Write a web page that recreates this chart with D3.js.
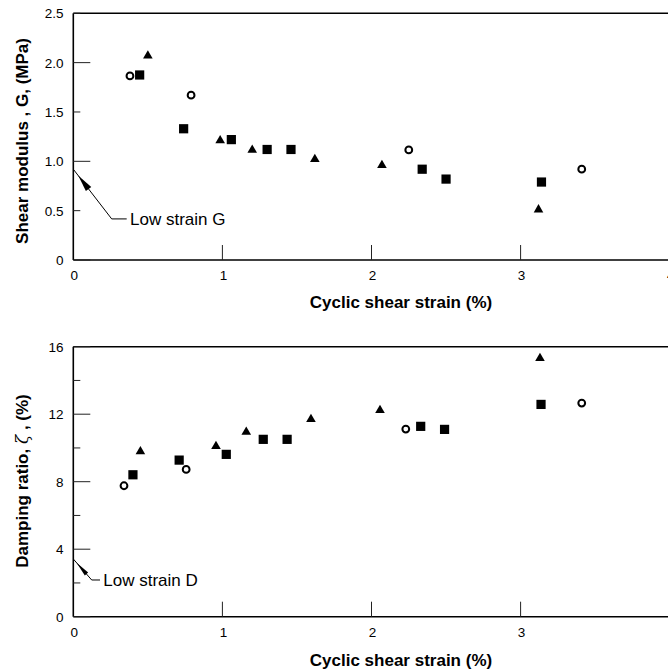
<!DOCTYPE html>
<html>
<head>
<meta charset="utf-8">
<script src="https://cdn.jsdelivr.net/npm/d3@7"></script>
<style>
  body { margin: 0; background: #fff; }
  text { font-family: "Liberation Sans", Arial, sans-serif; fill: #000; }
</style>
</head>
<body>
<script>
// strain (%) and value pairs
const gTriangle = [[0.50, 2.08], [0.985, 1.22], [1.20, 1.125], [1.62, 1.03], [2.07, 0.97], [3.12, 0.52]];
const gSquare = [[0.445, 1.875], [0.74, 1.33], [1.06, 1.22], [1.30, 1.12], [1.46, 1.12], [2.34, 0.92], [2.50, 0.82], [3.14, 0.79]];
const gCircle = [[0.38, 1.865], [0.79, 1.67], [2.25, 1.115], [3.41, 0.92]];

const dTriangle = [[0.45, 9.84], [0.957, 10.15], [1.16, 11.0], [1.594, 11.75], [2.057, 12.29], [3.13, 15.37]];
const dSquare = [[0.40, 8.41], [0.71, 9.28], [1.026, 9.62], [1.274, 10.51], [1.434, 10.51], [2.33, 11.28], [2.49, 11.10], [3.137, 12.58]];
const dCircle = [[0.34, 7.76], [0.757, 8.73], [2.23, 11.12], [3.41, 12.66]];

const xTicks = [0, 1, 2, 3, 4];
const gXLabels = ["0", "1", "2", "3", "4"];
const dXLabels = ["0", "1", "2", "3", ""];
const gTicks = [0, 0.5, 1.0, 1.5, 2.0, 2.5];
const gTickLabels = ["0", "0.5", "1.0", "1.5", "2.0", "2.5"];
const dTicks = [0, 2, 4, 6, 8, 10, 12, 14, 16];
const dTickLabels = ["0", "", "4", "", "8", "", "12", "", "16"];

const lowStrainG = 0.92;
const lowStrainD = 3.42;

const svg = d3.select("body").append("svg")
    .attr("width", 668).attr("height", 670);

const x = d3.scaleLinear().domain([0, 4]).range([73.3, 669.7]);
const yG = d3.scaleLinear().domain([0, 2.5]).range([260, 13.3]);
const yD = d3.scaleLinear().domain([0, 16]).range([616.7, 346.7]);

function panel(y, ticks, labels, xLabels, labelY, xTitleY, yTitleParts, yTitleMid) {
    const g = svg.append("g");
    const [y0, y1] = y.range();

    // frame: left, bottom, top
    g.append("line").attr("x1", x(0)).attr("x2", x(0)).attr("y1", y0).attr("y2", y1)
        .attr("stroke", "#000").attr("stroke-width", 1.6);
    g.append("line").attr("x1", x(0)).attr("x2", 668).attr("y1", y0).attr("y2", y0)
        .attr("stroke", "#000").attr("stroke-width", 1.6);
    g.append("line").attr("x1", x(0)).attr("x2", 668).attr("y1", y1).attr("y2", y1)
        .attr("stroke", "#000").attr("stroke-width", 1.4);

    // y ticks inward, every other one long
    g.selectAll(".yt").data(ticks).enter().append("line")
        .attr("x1", x(0))
        .attr("x2", (d, i) => x(0) + (i % 2 === 0 ? 17 : 7))
        .attr("y1", d => y(d)).attr("y2", d => y(d))
        .attr("stroke", "#222").attr("stroke-width", 1);
    g.selectAll(".yl").data(ticks).enter().append("text")
        .attr("x", 63.5).attr("y", d => y(d)).attr("dy", "0.36em")
        .attr("text-anchor", "end").style("font-size", "13.5px")
        .text((d, i) => labels[i]);

    // x ticks inward
    g.selectAll(".xt").data(xTicks.slice(1)).enter().append("line")
        .attr("x1", d => x(d)).attr("x2", d => x(d))
        .attr("y1", y0).attr("y2", y0 - 15)
        .attr("stroke", "#222").attr("stroke-width", 1);
    g.selectAll(".xl").data(xTicks).enter().append("text")
        .attr("x", d => x(d) + 1).attr("y", labelY)
        .attr("text-anchor", "middle").style("font-size", "13.5px")
        .text((d, i) => xLabels[i]);

    g.append("text")
        .attr("x", 401).attr("y", xTitleY)
        .attr("text-anchor", "middle")
        .style("font-size", "17px").style("font-weight", "bold")
        .text("Cyclic shear strain (%)");

    const t = g.append("text")
        .attr("transform", "translate(28," + yTitleMid + ") rotate(-90)")
        .attr("text-anchor", "middle")
        .style("font-size", "17px").style("font-weight", "bold");
    yTitleParts.forEach(p => {
        t.append("tspan").text(p[0])
            .style("font-weight", p[1] ? "normal" : "bold")
            .style("font-style", p[1] ? "italic" : "normal")
            .style("font-family", p[1] ? "'DejaVu Serif', serif" : null);
    });
    return g;
}

function marks(g, y, tri, sq, circ) {
    g.selectAll(".tri").data(tri).enter().append("path")
        .attr("d", d => {
            const cx = x(d[0]), cy = y(d[1]);
            return "M" + (cx - 4.8) + "," + (cy + 3.7) + "L" + (cx + 4.8) + "," + (cy + 3.7) + "L" + cx + "," + (cy - 4.6) + "Z";
        })
        .style("fill", "#000");
    g.selectAll(".sq").data(sq).enter().append("rect")
        .attr("x", d => x(d[0]) - 4.6)
        .attr("y", d => y(d[1]) - 4.6)
        .attr("width", 9.2)
        .attr("height", 9.2)
        .style("fill", "#000");
    g.selectAll(".ci").data(circ).enter().append("circle")
        .attr("cx", d => x(d[0]))
        .attr("cy", d => y(d[1]))
        .attr("r", 3.4)
        .style("fill", "#fff").style("stroke", "#000").style("stroke-width", 2);
}

function leader(g, px, py, dx, dy, run, tip, base, w, label) {
    const len = Math.hypot(dx, dy), ux = dx / len, uy = dy / len;
    g.append("path")
        .attr("d", "M" + px + "," + py + "L" + (px + dx) + "," + (py + dy) + "L" + (px + dx + run) + "," + (py + dy))
        .attr("fill", "none").attr("stroke", "#000").attr("stroke-width", 1);
    const bx = px + ux * base, by = py + uy * base;
    g.append("path")
        .attr("d", "M" + (px + ux * tip) + "," + (py + uy * tip) +
            "L" + (bx - uy * w) + "," + (by + ux * w) +
            "L" + (bx + uy * w) + "," + (by - ux * w) + "Z")
        .style("fill", "#000");
    g.append("text")
        .attr("x", px + dx + run + 3.3).attr("y", py + dy + 6.5)
        .style("font-size", "17px")
        .text(label);
}

const panelG = panel(yG, gTicks, gTickLabels, gXLabels, 280, 308,
    [["Shear modulus , G, (MPa)", false]], 141);
marks(panelG, yG, gTriangle, gSquare, gCircle);
leader(panelG, x(0), yG(lowStrainG), 38.4, 49.7, 15, 8, 25, 3.4, "Low strain G");

const panelD = panel(yD, dTicks, dTickLabels, dXLabels, 637, 666,
    [["Damping ratio, ", false], ["ζ", true], [" , (%)", false]], 481);
marks(panelD, yD, dTriangle, dSquare, dCircle);
leader(panelD, x(0), yD(lowStrainD), 18.4, 21, 8.3, 5, 20, 2.2, "Low strain D");
</script>
</body>
</html>
